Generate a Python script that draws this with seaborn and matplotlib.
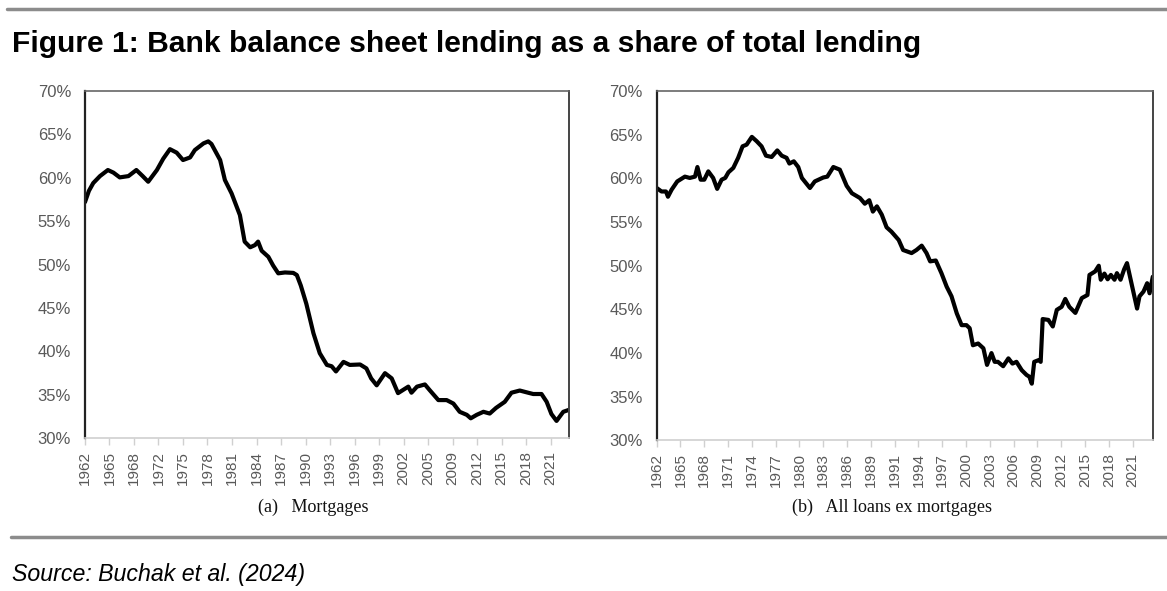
import numpy as np
import pandas as pd
import seaborn as sns
import matplotlib
matplotlib.use("Agg")
import matplotlib.pyplot as plt
from matplotlib.lines import Line2D
from matplotlib.ticker import PercentFormatter

# (a) Mortgages: bank balance sheet share, %
mort_years = [1962.0, 1962.5, 1963.05, 1963.9, 1964.9, 1965.6, 1966.4, 1967.5, 1968.5, 1969.3,
              1970.0, 1971.1, 1971.9, 1972.75, 1973.6, 1974.4, 1975.3, 1975.9, 1977.0, 1977.6,
              1978.0, 1979.1, 1979.7, 1980.55, 1981.6, 1982.2, 1982.9, 1983.5, 1983.9, 1984.35,
              1985.2, 1985.8, 1986.45, 1987.3, 1988.35, 1988.8, 1989.3, 1990.0, 1990.9, 1991.7,
              1992.6, 1993.2, 1993.75, 1994.7, 1995.5, 1996.8, 1997.6, 1998.2, 1998.9, 1999.95,
              2000.8, 2001.6, 2002.9, 2003.3, 2004.0, 2005.0, 2005.6, 2006.7, 2007.75, 2008.6,
              2009.4, 2010.3, 2010.8, 2011.55, 2012.4, 2013.2, 2014.0, 2015.1, 2015.95, 2017.0,
              2018.05, 2018.7, 2019.75, 2020.4, 2021.0, 2021.65, 2022.5, 2023.3]
mort_share = [57.2, 58.5, 59.4, 60.2, 60.9, 60.6, 60.05, 60.2, 60.9, 60.2,
              59.55, 60.9, 62.2, 63.3, 62.9, 62.05, 62.35, 63.2, 63.97, 64.2,
              63.9, 62.05, 59.75, 58.2, 55.7, 52.65, 52.0, 52.25, 52.65, 51.6,
              50.9, 49.9, 49.0, 49.1, 49.05, 48.8, 47.6, 45.5, 42.1, 39.8,
              38.45, 38.3, 37.7, 38.8, 38.45, 38.5, 38.05, 36.9, 36.1, 37.5,
              36.9, 35.2, 35.95, 35.25, 35.95, 36.2, 35.55, 34.4, 34.4, 34.0,
              33.05, 32.7, 32.3, 32.7, 33.05, 32.85, 33.5, 34.2, 35.25, 35.5,
              35.25, 35.1, 35.1, 34.2, 32.8, 32.0, 33.05, 33.3]

# (b) All loans ex mortgages
loan_years = [1962.0, 1962.6, 1963.15, 1963.4, 1963.85, 1964.55, 1965.5, 1966.1, 1966.75, 1967.05,
              1967.45, 1967.9, 1968.4, 1969.0, 1969.5, 1970.05, 1970.5, 1970.9, 1971.5, 1972.1,
              1972.65, 1973.15, 1973.8, 1974.4, 1975.0, 1975.55, 1976.25, 1976.95, 1977.5, 1978.1,
              1978.45, 1979.0, 1979.55, 1980.0, 1981.0, 1981.6, 1982.65, 1983.15, 1983.9, 1984.7,
              1985.55, 1986.2, 1987.2, 1987.8, 1988.35, 1988.8, 1989.3, 1989.9, 1990.5, 1991.1,
              1992.0, 1992.55, 1993.6, 1994.2, 1994.85, 1995.45, 1995.9, 1996.6, 1997.3, 1997.95,
              1998.55, 1999.2, 1999.8, 2000.4, 2000.8, 2001.2, 2001.85, 2002.5, 2002.95, 2003.5,
              2003.9, 2004.3, 2004.95, 2005.6, 2006.1, 2006.6, 2007.25, 2007.85, 2008.2, 2008.5,
              2008.8, 2009.35, 2009.6, 2009.85, 2010.55, 2011.1, 2011.6, 2012.2, 2012.65, 2013.15,
              2013.9, 2014.7, 2015.4, 2015.65, 2016.35, 2016.8, 2017.05, 2017.5, 2017.9, 2018.3,
              2018.75, 2019.05, 2019.5, 2019.95, 2020.3, 2020.9, 2021.55, 2021.85, 2022.35, 2022.8,
              2023.1, 2023.5]
loan_share = [58.9, 58.5, 58.5, 57.9, 58.7, 59.65, 60.2, 60.05, 60.2, 61.3,
              59.85, 59.85, 60.8, 60.05, 58.8, 59.85, 60.05, 60.7, 61.2, 62.35,
              63.67, 63.86, 64.75, 64.25, 63.67, 62.6, 62.45, 63.2, 62.6, 62.35,
              61.7, 61.95, 61.3, 60.05, 58.9, 59.65, 60.1, 60.2, 61.3, 61.0,
              59.15, 58.3, 57.75, 57.1, 57.5, 56.2, 56.8, 55.85, 54.4, 53.9,
              52.95, 51.8, 51.45, 51.8, 52.3, 51.45, 50.5, 50.6, 49.15, 47.6,
              46.5, 44.55, 43.2, 43.2, 42.85, 40.9, 41.1, 40.55, 38.65, 40.0,
              39.0, 39.0, 38.5, 39.4, 38.8, 39.0, 38.05, 37.5, 37.3, 36.5,
              39.0, 39.2, 39.0, 43.9, 43.8, 43.05, 44.95, 45.3, 46.2, 45.3,
              44.6, 46.3, 46.65, 48.95, 49.35, 50.0, 48.4, 49.1, 48.45, 48.95,
              48.4, 49.15, 48.4, 49.6, 50.3, 47.8, 45.1, 46.5, 47.05, 48.0,
              46.85, 48.75]

mort_labels = ["1962", "1965", "1968", "1972", "1975", "1978", "1981", "1984", "1987", "1990",
               "1993", "1996", "1999", "2002", "2005", "2009", "2012", "2015", "2018", "2021"]
loan_labels = ["1962", "1965", "1968", "1971", "1974", "1977", "1980", "1983", "1986", "1989",
               "1991", "1994", "1997", "2000", "2003", "2006", "2009", "2012", "2015", "2018", "2021"]

mort_df = pd.DataFrame({"year": mort_years, "share": mort_share})
loan_df = pd.DataFrame({"year": loan_years, "share": loan_share})

sns.set_theme(style="white")
plt.rcParams["font.family"] = ["Liberation Sans", "DejaVu Sans"]

fig = plt.figure(figsize=(11.67, 5.91), dpi=100)
ax1 = fig.add_axes([0.0728, 0.2584, 0.4150, 0.5876])
ax2 = fig.add_axes([0.5627, 0.2547, 0.4250, 0.5913])

grey = "#595959"


def style_panel(ax, df, labels, step, xmax):
    sns.lineplot(data=df, x="year", y="share", ax=ax, color="black", linewidth=3.0)
    ax.set_xlim(1962, xmax)
    ax.set_ylim(30, 70)
    ax.set_yticks(np.arange(30, 71, 5))
    ax.yaxis.set_major_formatter(PercentFormatter(decimals=0))
    ax.set_xticks([1962 + step * i for i in range(len(labels))])
    ax.set_xticklabels(labels, rotation=90)
    ax.set_xlabel("")
    ax.set_ylabel("")
    ax.tick_params(axis="y", length=0, pad=10, labelsize=12, labelcolor=grey)
    ax.tick_params(axis="x", length=5, width=1, color="#d0d0d0", pad=4,
                   labelsize=11, labelcolor=grey, bottom=True, direction="out")
    ax.spines["left"].set_color("#222222")
    ax.spines["left"].set_linewidth(1.6)
    ax.spines["top"].set_color("#666666")
    ax.spines["top"].set_linewidth(1.2)
    ax.spines["right"].set_color("#444444")
    ax.spines["right"].set_linewidth(1.4)
    ax.spines["bottom"].set_color("#d0d0d0")
    ax.spines["bottom"].set_linewidth(1.2)
    ax.grid(False)


style_panel(ax1, mort_df, mort_labels, 3.1, 2023.26)
style_panel(ax2, loan_df, loan_labels, 2.95, 2023.48)

# header / footer rules and text
fig.add_artist(Line2D([0.006, 1.0], [0.985, 0.985], transform=fig.transFigure,
                      color="#8c8c8c", linewidth=2.5))
fig.add_artist(Line2D([0.009, 1.0], [0.0914, 0.0914], transform=fig.transFigure,
                      color="#8c8c8c", linewidth=2.5))
fig.text(0.010, 0.926, "Figure 1: Bank balance sheet lending as a share of total lending",
         fontsize=21.6, fontweight="bold", color="black", va="center", ha="left")
fig.text(0.010, 0.028, "Source: Buchak et al. (2024)", fontsize=16.7, fontstyle="italic",
         color="black", va="center", ha="left")
fig.text(0.268, 0.141, "(a)   Mortgages", fontsize=13, family="Liberation Serif",
         color="#111111", ha="center", va="center")
fig.text(0.764, 0.141, "(b)   All loans ex mortgages", fontsize=13, family="Liberation Serif",
         color="#111111", ha="center", va="center")

fig.savefig("out.png", dpi=100)
